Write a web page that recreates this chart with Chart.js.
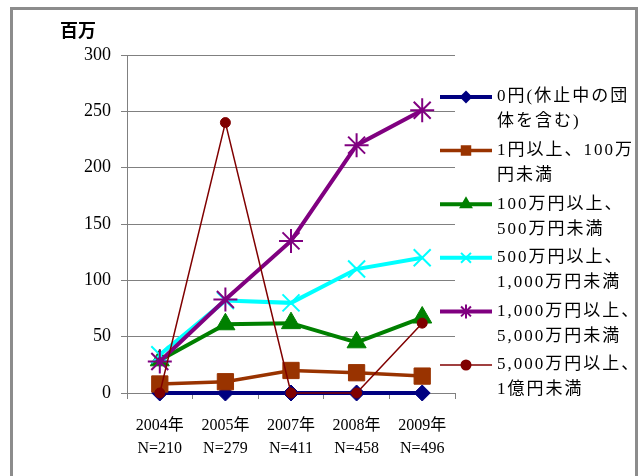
<!DOCTYPE html>
<html>
<head>
<meta charset="utf-8">
<script src="https://cdn.jsdelivr.net/npm/chart.js@4.4.1/dist/chart.umd.min.js"></script>
<style>
  html, body { margin: 0; padding: 0; background: #fff; }
  #wrap { width: 638px; height: 476px; position: relative; }
</style>
</head>
<body>
<div id="wrap"><canvas id="chart" width="638" height="476"></canvas></div>
<script>
const serif = '"Liberation Serif", "Noto Sans CJK JP", serif';

const years = ['2004年', '2005年', '2007年', '2008年', '2009年'];
const counts = ['N=210', 'N=279', 'N=411', 'N=458', 'N=496'];
const yTicks = [0, 50, 100, 150, 200, 250, 300];

const zeroYen = [0, 0, 0, 0, 0];
const under1m = [8, 10, 20, 18, 15];
const under5m = [29, 61, 62, 45, 67];
const under10m = [34, 82, 80, 110, 120];
const under50m = [28, 83, 135, 220, 251];
const under100m = [0, 240, 0, 0, 62];

const seriesNames = [
  ['0円(休止中の団', '体を含む)'],
  ['1円以上、100万', '円未満'],
  ['100万円以上、', '500万円未満'],
  ['500万円以上、', '1,000万円未満'],
  ['1,000万円以上、', '5,000万円未満'],
  ['5,000万円以上、', '1億円未満']
];

const styles = [
  { color: '#000080', width: 4, point: 'rectRot', r: 8, lr: 5 },
  { color: '#993300', width: 3.5, point: 'rect', r: 11.5, lr: 6 },
  { color: '#008000', width: 4, point: 'triangle', r: 11, lr: 6 },
  { color: '#00ffff', width: 4, point: 'crossRot', r: 12, lr: 7 },
  { color: '#800080', width: 4, point: 'star', r: 12, lr: 7 },
  { color: '#800000', width: 1.5, point: 'circle', r: 5, lr: 4.5 }
];

const values = [zeroYen, under1m, under5m, under10m, under50m, under100m];

const datasets = values.map((v, i) => ({
  label: seriesNames[i].join(''),
  data: v,
  borderColor: styles[i].color,
  backgroundColor: styles[i].color,
  borderWidth: styles[i].width,
  pointStyle: styles[i].point,
  pointRadius: styles[i].r,
  pointBorderWidth: styles[i].point === 'crossRot' || styles[i].point === 'star' ? 2 : 1,
  tension: 0,
  clip: false,
  order: values.length - i
}));

const framePlugin = {
  id: 'frame',
  beforeDraw(chart) {
    const ctx = chart.ctx;
    ctx.save();
    ctx.fillStyle = '#fff';
    ctx.fillRect(0, 0, chart.width, chart.height);
    ctx.strokeStyle = '#8c8c8c';
    ctx.lineWidth = 3;
    ctx.beginPath();
    ctx.moveTo(11.5, 476);
    ctx.lineTo(11.5, 8.5);
    ctx.lineTo(636.5, 8.5);
    ctx.lineTo(636.5, 476);
    ctx.stroke();
    ctx.fillStyle = '#000';
    ctx.font = 'bold 18px "Noto Sans CJK JP"';
    ctx.textBaseline = 'middle';
    ctx.fillText('百万', 60, 30);
    ctx.restore();
  }
};

const legendPlugin = {
  id: 'sideLegend',
  afterDraw(chart) {
    const ctx = chart.ctx;
    ctx.save();
    chart.data.datasets.forEach((ds, i) => {
      const st = styles[i];
      const y = 97 + i * 53.6;
      ctx.strokeStyle = st.color;
      ctx.lineWidth = st.width;
      ctx.beginPath();
      ctx.moveTo(440, y);
      ctx.lineTo(492, y);
      ctx.stroke();
      ctx.fillStyle = st.color;
      ctx.lineWidth = 2;
      Chart.helpers.drawPoint(ctx, { pointStyle: st.point, radius: st.lr, rotation: 0, borderWidth: 2 }, 466, y);
      ctx.fillStyle = '#000';
      ctx.font = '17px ' + serif;
      ctx.letterSpacing = '2px';
      ctx.textBaseline = 'middle';
      seriesNames[i].forEach((line, k) => ctx.fillText(line, 497, y + k * 25));
    });
    ctx.restore();
  }
};

new Chart(document.getElementById('chart'), {
  type: 'line',
  data: {
    labels: years.map((y, i) => [y, counts[i]]),
    datasets
  },
  options: {
    responsive: false,
    animation: false,
    layout: { padding: { top: 55, right: 183, bottom: 0, left: 0 } },
    plugins: { legend: { display: false }, tooltip: { enabled: false } },
    scales: {
      x: {
        offset: true,
        grid: { offset: true, drawOnChartArea: false, color: '#808080', tickLength: 6 },
        border: { color: '#808080' },
        ticks: { color: '#000', font: { family: serif, size: 16, lineHeight: 1.45 }, padding: 15, maxRotation: 0 },
        afterFit(scale) { scale.height = 83; }
      },
      y: {
        min: 0,
        max: 300,
        afterBuildTicks(scale) { scale.ticks = yTicks.map(v => ({ value: v })); },
        grid: { color: '#808080', tickLength: 6 },
        border: { color: '#808080' },
        ticks: { color: '#000', font: { family: serif, size: 18 }, padding: 10 },
        afterFit(scale) { scale.width = 127; }
      }
    }
  },
  plugins: [framePlugin, legendPlugin]
});
</script>
</body>
</html>
